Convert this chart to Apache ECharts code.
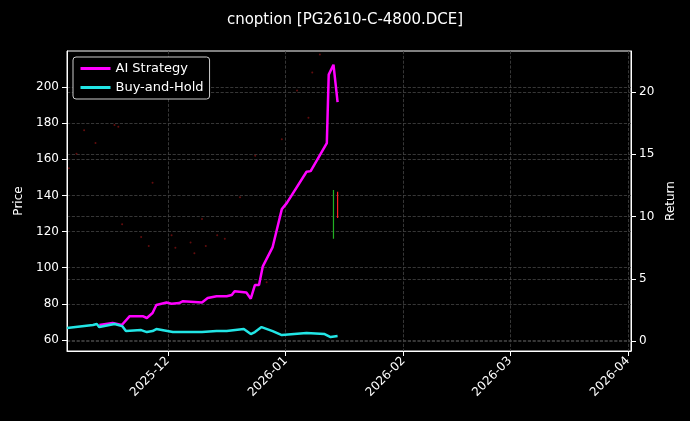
<!DOCTYPE html>
<html><head><meta charset="utf-8">
<script src="https://cdn.jsdelivr.net/npm/echarts@6/dist/echarts.min.js"></script>
<style>html,body{margin:0;background:#000}#c{width:690px;height:421px}</style></head>
<body><div id="c"></div>
<script>
const aiDates=['2025-11-13','2025-11-16 12:00','2025-11-18 22:00','2025-11-21','2025-11-24 10:00','2025-11-25 12:00','2025-11-27','2025-11-28','2025-11-30 16:00','2025-12-02','2025-12-04','2025-12-05','2025-12-10','2025-12-11 12:00','2025-12-13 20:00','2025-12-16 12:00','2025-12-17 20:00','2025-12-18 14:00','2025-12-21 16:00','2025-12-22 20:00','2025-12-23 22:00','2025-12-25','2025-12-26','2025-12-28 14:00','2025-12-31','2026-01-01 08:00','2026-01-06 12:00','2026-01-07 14:00','2026-01-11 20:00','2026-01-12 08:00','2026-01-13 14:00','2026-01-14 16:00'];
const aiValues=[1.29,1.45,1.29,2.0,2.0,1.85,2.25,2.9,3.1,3.0,3.05,3.2,3.1,3.45,3.6,3.6,3.7,4.0,3.9,3.4,4.5,4.5,6.0,7.55,10.6,11.1,13.6,13.65,15.9,21.4,22.2,19.2];
const bhDates=['2025-11-04 12:00','2025-11-11 08:00','2025-11-12 08:00','2025-11-13','2025-11-17','2025-11-19','2025-11-20','2025-11-24','2025-11-25 12:00','2025-11-27','2025-11-27 08:00','2025-11-28','2025-12-02 08:00','2025-12-10','2025-12-13 20:00','2025-12-16 12:00','2025-12-21','2025-12-22 20:00','2025-12-23 22:00','2025-12-25 16:00','2025-12-28 14:00','2025-12-31','2026-01-06 12:00','2026-01-11 06:00','2026-01-12 20:00','2026-01-14 16:00'];
const bhValues=[1.04,1.29,1.37,1.12,1.37,1.2,0.8,0.88,0.72,0.8,0.72,0.96,0.72,0.72,0.8,0.8,0.96,0.56,0.72,1.12,0.8,0.48,0.64,0.56,0.32,0.4];
const dotDates=['2025-11-05','2025-11-07','2025-11-09','2025-11-12','2025-11-17','2025-11-18','2025-11-19','2025-11-24','2025-11-26','2025-11-27','2025-12-02','2025-12-03','2025-12-07','2025-12-08','2025-12-10','2025-12-11','2025-12-14','2025-12-16','2025-12-20','2025-12-24','2025-12-27','2025-12-31','2026-01-04','2026-01-08','2026-01-10','2026-01-07'];
const dotPrices=[155,163,176,169,179,178,124,117,112,147,118,111,114,108,127,112,118,116,139,162,92,171,198,208,218,183];
const candleDates=['2026-01-13 14:00','2026-01-14 16:00'];
const candleLow=[116,127.5];
const candleHigh=[143,142];
const priceTicks=[60,80,100,120,140,160,180,200];
const returnTicks=[0,5,10,15,20];
const t=s=>new Date(s.replace(' ','T')).getTime();
const font='DejaVu Sans';
const ch=echarts.init(document.getElementById('c'));
const candleSeries=candleDates.map((d,i)=>({type:'line',yAxisIndex:0,symbol:'none',silent:true,
  data:[[t(d),candleLow[i]],[t(d),candleHigh[i]]],lineStyle:{width:1.2,opacity:1,color:i==0?'#22b022':'#ff2020'}}));
const grid={show:true,lineStyle:{color:'#444',type:'dashed',width:0.8}};
ch.setOption({
  backgroundColor:'#000',animation:false,
  textStyle:{fontFamily:font},
  title:{text:'cnoption [PG2610-C-4800.DCE]',left:'center',top:8,textStyle:{color:'#fff',fontSize:15,fontWeight:'normal',fontFamily:font}},
  legend:{left:73,top:57,orient:'vertical',itemGap:6,itemWidth:30,itemHeight:3,backgroundColor:'#000',borderColor:'#ccc',borderWidth:1,borderRadius:3,padding:[5,6],
    lineStyle:{width:3},
    textStyle:{color:'#fff',fontSize:13,fontFamily:font},data:['AI Strategy','Buy-and-Hold']},
  grid:{left:67,right:59,top:51,bottom:70,show:true,borderColor:'#fff',borderWidth:1},
  xAxis:{type:'time',min:t('2025-11-04 12:00'),max:t('2026-04-01 20:00'),
    axisLine:{show:true,onZero:false,lineStyle:{color:'#fff'}},axisTick:{lineStyle:{color:'#fff'}},
    splitLine:grid,
    axisLabel:{color:'#fff',fontSize:12,rotate:45,formatter:v=>{const d=new Date(v);return d.getFullYear()+'-'+String(d.getMonth()+1).padStart(2,'0');}},
    minInterval:28*86400000,splitNumber:5},
  yAxis:[{type:'value',name:'Price',nameLocation:'middle',nameGap:38,nameTextStyle:{color:'#fff',fontSize:12},min:53.9,max:219.9,
    axisLine:{show:true,lineStyle:{color:'#fff'}},axisTick:{show:true,customValues:priceTicks},axisLabel:{color:'#fff',fontSize:12,customValues:priceTicks},
    splitLine:grid},
   {type:'value',name:'Return',nameLocation:'middle',nameGap:32,nameTextStyle:{color:'#fff',fontSize:12},min:-0.8,max:23.3,
    axisLine:{show:true,lineStyle:{color:'#fff'}},
    axisLabel:{color:'#fff',fontSize:12,customValues:returnTicks},axisTick:{show:true,customValues:returnTicks},
    splitLine:grid}],
  series:[
    {type:'scatter',yAxisIndex:0,symbolSize:2,itemStyle:{color:'#7a1010'},data:dotDates.map((d,i)=>[t(d),dotPrices[i]]),silent:true},
    ...candleSeries,
    {name:'AI Strategy',type:'line',yAxisIndex:1,symbol:'none',lineStyle:{width:2.5,color:'#ff00ff'},itemStyle:{color:'#ff00ff'},data:aiDates.map((d,i)=>[t(d),aiValues[i]])},
    {name:'Buy-and-Hold',type:'line',yAxisIndex:1,symbol:'none',lineStyle:{width:2.5,color:'#22e5e5'},itemStyle:{color:'#22e5e5'},data:bhDates.map((d,i)=>[t(d),bhValues[i]])}
  ]
});
</script></body></html>
